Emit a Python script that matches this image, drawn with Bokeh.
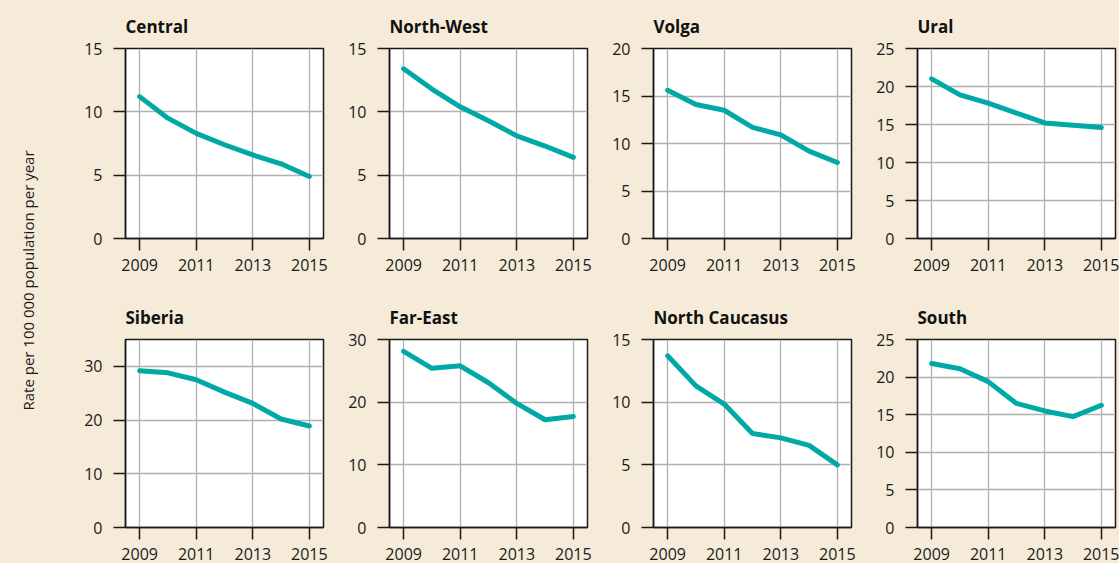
from math import pi
from bokeh.plotting import figure
from bokeh.layouts import row, column
from bokeh.models import Range1d, FixedTicker, Label
from bokeh.embed import file_html
from bokeh.resources import INLINE

# ---------------- data ----------------
years = [2009, 2010, 2011, 2012, 2013, 2014, 2015]
regions = ["Central", "North-West", "Volga", "Ural",
           "Siberia", "Far-East", "North Caucasus", "South"]
central = [11.2, 9.5, 8.3, 7.4, 6.6, 5.9, 4.9]
north_west = [13.4, 11.8, 10.4, 9.3, 8.1, 7.3, 6.4]
volga = [15.6, 14.1, 13.5, 11.7, 10.9, 9.2, 8.0]
ural = [21.0, 18.9, 17.8, 16.5, 15.2, 14.9, 14.6]
siberia = [29.2, 28.8, 27.5, 25.2, 23.1, 20.2, 18.9]
far_east = [28.1, 25.4, 25.8, 23.1, 19.8, 17.2, 17.7]
north_caucasus = [13.7, 11.3, 9.85, 7.5, 7.15, 6.55, 5.0]
south = [21.8, 21.1, 19.4, 16.5, 15.5, 14.75, 16.25]
series = [central, north_west, volga, ural, siberia, far_east, north_caucasus, south]
y_max = [15, 15, 20, 25, 35, 30, 15, 25]
y_ticks = [[0, 5, 10, 15], [0, 5, 10, 15], [0, 5, 10, 15, 20], [0, 5, 10, 15, 20, 25],
           [0, 10, 20, 30], [0, 10, 20, 30], [0, 5, 10, 15], [0, 5, 10, 15, 20, 25]]
x_ticks = [2009, 2011, 2013, 2015]
y_label = "Rate per 100 000 population per year"

# ---------------- style ----------------
BG = "#f5ebd8"
TEAL = "#00a9a6"
FONT = "Open Sans"
INK = "#1a1a1a"


def panel(name, vals, ymax, yt, top_pad, bottom_pad, right_pad):
    p = figure(width=52 + 198 + right_pad, height=top_pad + 190 + bottom_pad,
               x_range=Range1d(2008.5, 2015.5), y_range=Range1d(0, ymax),
               toolbar_location=None, output_backend="svg", title=name,
               min_border_left=52, min_border_right=right_pad,
               min_border_top=top_pad, min_border_bottom=bottom_pad)
    p.background_fill_color = "white"
    p.border_fill_color = BG
    p.outline_line_color = INK
    p.outline_line_width = 1.5
    p.title.text_font = FONT
    p.title.text_font_size = "17px"
    p.title.text_font_style = "bold"
    p.title.text_color = "#111111"
    p.title.align = "left"
    p.title.standoff = 21
    p.line(years, vals, line_width=5, color=TEAL, line_cap="round", line_join="round")
    p.xaxis.ticker = FixedTicker(ticks=x_ticks)
    p.yaxis.ticker = FixedTicker(ticks=yt)
    p.xgrid.ticker = FixedTicker(ticks=x_ticks)
    p.ygrid.ticker = FixedTicker(ticks=yt)
    p.grid.grid_line_color = "#b0b0b0"
    p.grid.grid_line_width = 1.3
    for ax in p.axis:
        ax.axis_line_color = INK
        ax.axis_line_width = 1.5
        ax.major_tick_line_color = INK
        ax.major_tick_line_width = 1.5
        ax.major_tick_out = 12
        ax.major_tick_in = 0
        ax.minor_tick_line_color = None
        ax.major_label_text_font = FONT
        ax.major_label_text_font_size = "16px"
        ax.major_label_text_color = "#1a1a1a"
    p.yaxis.major_label_standoff = 11
    p.xaxis.major_label_standoff = 8
    return p


# frame: 198 x 190 px; row 1 includes the 8 px page margin at the top
panels = []
for k, (n, v, m, t) in enumerate(zip(regions, series, y_max, y_ticks)):
    top_pad, bottom_pad = (48, 55) if k < 4 else (44, 60)
    right_pad = 4 if k % 4 == 3 else 14
    panels.append(panel(n, v, m, t, top_pad, bottom_pad, right_pad))

H = panels[0].height + panels[4].height
lab = figure(width=73, height=H, x_range=(0, 1), y_range=(0, 1),
             toolbar_location=None, output_backend="svg",
             min_border=0)
lab.axis.visible = False
lab.grid.visible = False
lab.outline_line_color = None
lab.background_fill_color = BG
lab.border_fill_color = BG
lab.add_layout(Label(x=27, y=H - 280, x_units="screen", y_units="screen",
                     text=y_label, angle=pi / 2, text_align="center",
                     text_baseline="middle", text_font=FONT,
                     text_font_size="15px", text_color="#1a1a1a"))

layout = row(lab, column(row(*panels[:4]), row(*panels[4:])))

html = file_html(layout, INLINE)
css = ("<style>html{background:%s !important; overflow:hidden !important;}"
       "body{margin:0 !important; background:%s !important;}"
       "</style>" % (BG, BG))
i = html.rfind("</head>")
html = html[:i] + css + html[i:]
open("out.html", "w").write(html)
